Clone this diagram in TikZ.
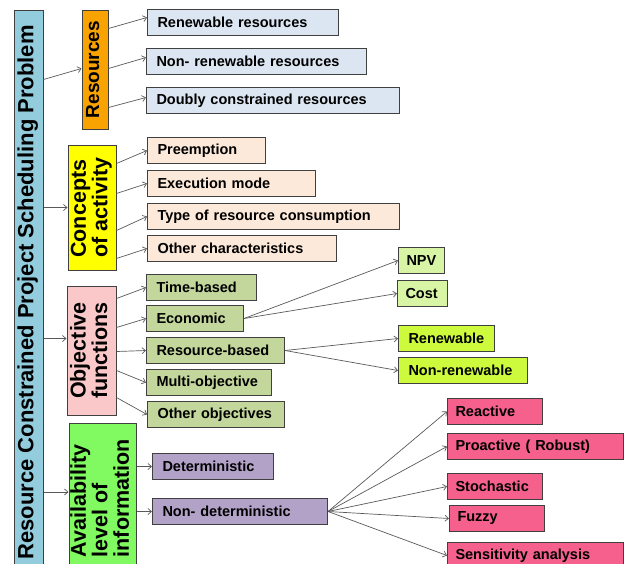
\documentclass[tikz,border=0pt]{standalone}
\usepackage{fontspec}
\setmainfont{Liberation Sans}
\usepackage{graphicx}
\usetikzlibrary{positioning,calc,arrows.meta}

\definecolor{mainblue}{RGB}{147,205,221}
\definecolor{resorange}{RGB}{248,163,0}
\definecolor{resleaf}{RGB}{220,230,242}
\definecolor{conyellow}{RGB}{255,255,0}
\definecolor{conleaf}{RGB}{253,233,217}
\definecolor{objpink}{RGB}{250,200,200}
\definecolor{objleaf}{RGB}{195,214,155}
\definecolor{ecoleaf}{RGB}{215,245,165}
\definecolor{rbleaf}{RGB}{205,250,60}
\definecolor{avagreen}{RGB}{128,250,96}
\definecolor{avaleaf}{RGB}{179,162,199}
\definecolor{ndleaf}{RGB}{245,96,140}

\newcommand{\leaffont}{\fontsize{14.5}{17}\selectfont\bfseries}
\newcommand{\catfont}{\fontsize{21.5}{19.5}\selectfont\bfseries}
\newcommand{\titlefont}{\fontsize{22}{24}\selectfont\bfseries}
\newcommand{\resfont}{\fontsize{19}{21}\selectfont\bfseries}
\newcommand{\cattext}[1]{\rotatebox{90}{\begin{tabular}{@{}l@{}}#1\end{tabular}}}

\begin{document}
\begin{tikzpicture}
    [x=1pt, y=-1pt,
     box/.style={rectangle, draw=black!75, line width=1pt},
     cat/.style={box, inner sep=0pt, font=\catfont},
     leaf/.style={box, anchor=north west, minimum height=26pt, inner xsep=10pt, inner ysep=0pt, align=left, text width=#1, font=\leaffont},
     arr/.style={draw=black!65, line width=0.7pt, -{Straight Barb[length=3.5pt,width=6pt]}}]

    \useasboundingbox (0,0) rectangle (626,563);
    \clip (0,0) rectangle (626,563);

    % left column
    \node [cat, fill=mainblue, minimum width=29pt, minimum height=565pt, font=\titlefont] (rcpsp) at (28.5,292.5) {\cattext{Resource Constrained Project Scheduling Problem}};
    \node [cat, fill=resorange, minimum width=26pt, minimum height=119pt, font=\resfont] (res) at (95,69.5) {\cattext{Resources}};
    \node [cat, fill=conyellow, minimum width=48pt, minimum height=125pt] (con) at (92,207.5) {\cattext{Concepts\\of activity}};
    \node [cat, fill=objpink, minimum width=49pt, minimum height=129pt] (obj) at (91.5,350.5) {\cattext{Objective\\functions}};
    \node [cat, fill=avagreen, minimum width=67pt, minimum height=150pt] (ava) at (102.5,498) {\cattext{Availability\\level of\\information}};

    \draw [arr] ($(rcpsp.east |- res.west)+(0,10)$) -- ($(res.west)+(0,-1)$);
    \draw [arr] (rcpsp.east |- con.west) -- (con.west);
    \draw [arr] ($(rcpsp.east |- obj.west)+(0,-12)$) -- ($(obj.west)+(0,-12)$);
    \draw [arr] ($(rcpsp.east |- ava.west)+(0,-6)$) -- ($(ava.west)+(0,-6)$);

    % resources
    \node [leaf=171pt, fill=resleaf] (ren) at (147,9) {Renewable resources};
    \node [leaf=200pt, fill=resleaf] (nren) at (146,48) {Non- renewable resources};
    \node [leaf=233pt, fill=resleaf] (dbl) at (146,87) {Doubly constrained resources};
    \draw [arr] ($(res.east |- ren.west)+(0,6)$) -- ($(ren.west)+(0,-5)$);
    \draw [arr] ($(res.east |- nren.west)+(0,7)$) -- ($(nren.west)+(0,-4)$);
    \draw [arr] ($(res.east |- dbl.west)+(0,7)$) -- ($(dbl.west)+(0,-3)$);

    % concepts of activity
    \node [leaf=98pt, fill=conleaf] (pre) at (147,137) {Preemption};
    \node [leaf=148pt, fill=conleaf] (exe) at (147,170) {Execution mode};
    \node [leaf=232pt, fill=conleaf] (typ) at (147,203) {Type of resource consumption};
    \node [leaf=169pt, fill=conleaf] (oth) at (147,235) {Other characteristics};
    \draw [arr] ($(con.east |- pre.west)+(0,13)$) -- (pre.west);
    \draw [arr] ($(con.east |- exe.west)+(0,10)$) -- (exe.west);
    \draw [arr] ($(con.east |- typ.west)+(0,14)$) -- (typ.west);
    \draw [arr] ($(con.east |- oth.west)+(0,10)$) -- (oth.west);

    % objective functions
    \node [leaf=90pt, fill=objleaf] (tim) at (146,274) {Time-based};
    \node [leaf=77pt, fill=objleaf] (eco) at (146,305) {Economic};
    \node [leaf=118pt, fill=objleaf] (rb) at (146,337) {Resource-based};
    \node [leaf=105pt, fill=objleaf] (mul) at (146,369) {Multi-objective};
    \node [leaf=117pt, fill=objleaf] (oob) at (147,401) {Other objectives};
    \draw [arr] ($(obj.east |- tim.west)+(0,11)$) -- (tim.west);
    \draw [arr] ($(obj.east |- eco.west)+(0,9)$) -- (eco.west);
    \draw [arr] ($(obj.east |- rb.west)+(0,1)$) -- (rb.west);
    \draw [arr] ($(obj.east |- mul.west)+(0,-12)$) -- (mul.west);
    \draw [arr] ($(obj.east |- oob.west)+(0,-17)$) -- (oob.west);

    \node [leaf=30pt, fill=ecoleaf, inner xsep=8pt] (npv) at (398,247) {NPV};
    \node [leaf=34pt, fill=ecoleaf, inner xsep=8pt] (cost) at (397,280) {Cost};
    \node [leaf=76pt, fill=rbleaf] (renw) at (398,325) {Renewable};
    \node [leaf=109pt, fill=rbleaf] (nrenw) at (398,357) {Non-renewable};
    \draw [arr] (eco.east) -- (npv.west);
    \draw [arr] (eco.east) -- (cost.west);
    \draw [arr] (rb.east) -- (renw.west);
    \draw [arr] (rb.east) -- (nrenw.west);

    % availability level of information
    \node [leaf=101pt, fill=avaleaf] (det) at (152,453) {Deterministic};
    \node [leaf=155pt, fill=avaleaf] (ndet) at (152,498) {Non- deterministic};
    \draw [arr] (ava.east |- det.west) -- (det.west);
    \draw [arr] (ava.east |- ndet.west) -- (ndet.west);

    \node [leaf=79pt, fill=ndleaf, inner xsep=8pt] (rea) at (447,398) {Reactive};
    \node [leaf=160pt, fill=ndleaf, inner xsep=8pt] (pro) at (447,433) {Proactive ( Robust)};
    \node [leaf=79pt, fill=ndleaf, inner xsep=8pt] (sto) at (447,473) {Stochastic};
    \node [leaf=79pt, fill=ndleaf, inner xsep=8pt] (fuz) at (449,505) {Fuzzy};
    \node [leaf=160pt, fill=ndleaf, inner xsep=8pt] (sen) at (447,542) {Sensitivity analysis};
    \draw [arr] (ndet.east) -- (rea.west);
    \draw [arr] (ndet.east) -- (pro.west);
    \draw [arr] (ndet.east) -- (sto.west);
    \draw [arr] (ndet.east) -- (fuz.west);
    \draw [arr] (ndet.east) -- (sen.west);
\end{tikzpicture}
\end{document}
